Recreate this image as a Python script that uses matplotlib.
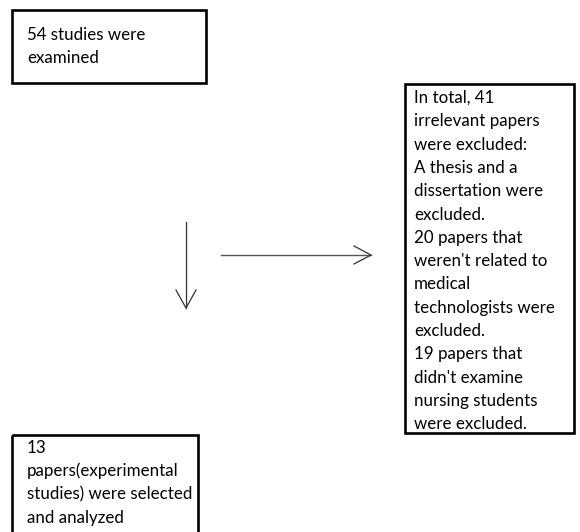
import matplotlib
matplotlib.use("Agg")
import matplotlib.pyplot as plt
from matplotlib.patches import Rectangle

plt.rcParams['font.family'] = ['Lato', 'DejaVu Sans']

box_start_lines = ["54 studies were", "examined"]
box_excluded_lines = [
    "In total, 41",
    "irrelevant papers",
    "were excluded:",
    "A thesis and a",
    "dissertation were",
    "excluded.",
    "20 papers that",
    "weren't related to",
    "medical",
    "technologists were",
    "excluded.",
    "19 papers that",
    "didn't examine",
    "nursing students",
    "were excluded.",
]
box_final_lines = ["13", "papers(experimental", "studies) were selected", "and analyzed"]

W, H = 580, 532
fig = plt.figure(figsize=(W / 100, H / 100), dpi=100)
ax = fig.add_axes([0, 0, 1, 1])
ax.set_xlim(0, W)
ax.set_ylim(H, 0)
ax.axis('off')

FS = 12.2
PITCH = 23.3

def box(x0, y0, x1, y1, lines, tx, ty):
    ax.add_patch(Rectangle((x0, y0), x1 - x0, y1 - y0, fill=False,
                           edgecolor='black', linewidth=1.9))
    for i, s in enumerate(lines):
        ax.text(tx, ty + i * PITCH, s, fontsize=FS, va='baseline', ha='left',
                color='black')

box(12, 10, 206, 83, box_start_lines, 27, 40)
box(405, 84, 574, 433, box_excluded_lines, 414, 103)
box(12, 435, 198, 545, box_final_lines, 27, 453)

# down arrow
ac = '#333333'
ax.plot([186, 186], [222, 308], color=ac, lw=0.9)
ax.plot([176, 186, 196], [290, 308, 290], color=ac, lw=0.9)
# right arrow
ax.plot([221, 371], [255, 255], color='#555555', lw=1.0)
ax.plot([354, 371, 354], [246, 255, 264], color=ac, lw=0.9)

fig.savefig('out.png', dpi=100)
